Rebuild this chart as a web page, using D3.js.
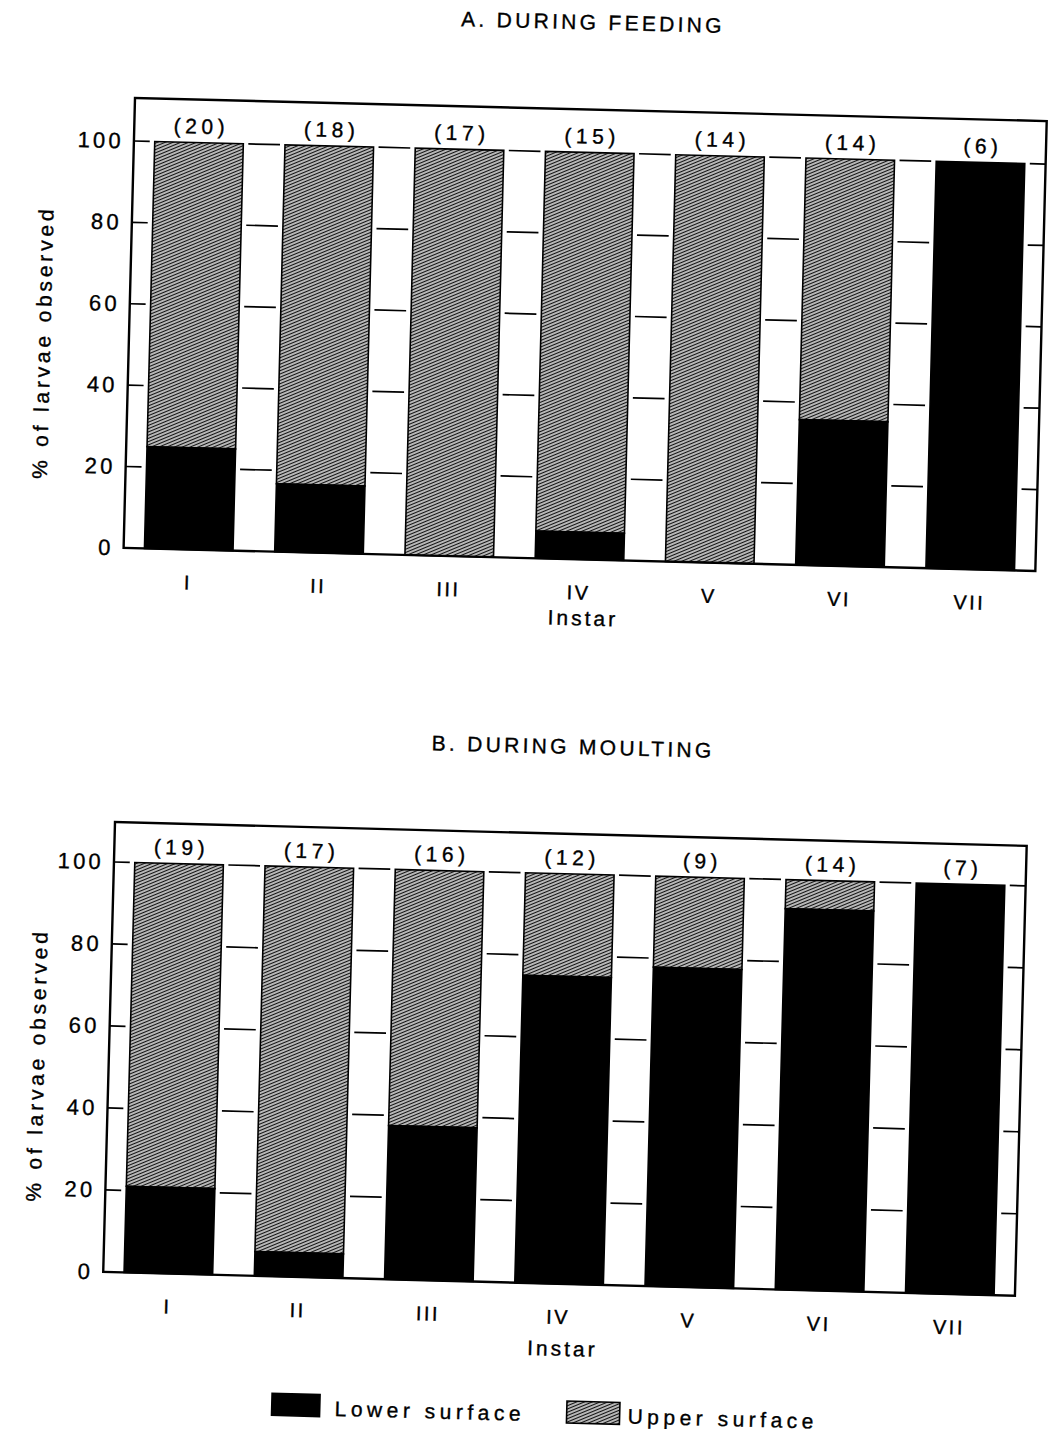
<!DOCTYPE html>
<html>
<head>
<meta charset="utf-8">
<script src="https://cdn.jsdelivr.net/npm/d3@7"></script>
<style>
  body { margin: 0; background: #fff; }
  text { font-family: "Liberation Sans", Arial, sans-serif; fill: #000; stroke: #000; stroke-width: 0.35; }
</style>
</head>
<body>
<svg id="chart" width="1052" height="1445"></svg>
<script>
// data (lower surface %, rest is upper surface)
const instars = ["I", "II", "III", "IV", "V", "VI", "VII"];
const feedingCounts = [20, 18, 17, 15, 14, 14, 6];
const feedingLower = [25, 16.7, 0, 6.7, 0, 35.7, 100];
const moultingCounts = [19, 17, 16, 12, 9, 14, 7];
const moultingLower = [21, 5.9, 37.5, 75, 77.8, 92.9, 100];
const yTicks = [0, 20, 40, 60, 80, 100];
const gridLevels = [20, 40, 60, 80, 100];

const W = 912, H = 450;

const svg = d3.select("#chart");

// grey hatch used for "upper surface"
const defs = svg.append("defs");
const pat = defs.append("pattern")
    .attr("id", "hatch")
    .attr("patternUnits", "userSpaceOnUse")
    .attr("width", 6).attr("height", 3)
    .attr("patternTransform", "rotate(-24)");
pat.append("rect").attr("width", 6).attr("height", 3).attr("fill", "#d4d4d4");
pat.append("line")
    .attr("x1", 0).attr("x2", 6).attr("y1", 1.5).attr("y2", 1.5)
    .attr("stroke", "#111").attr("stroke-width", 1.3);

function drawPanel(p) {
  const g = svg.append("g")
      .attr("transform", `translate(${p.x0},${p.y0}) rotate(${p.angle})`);

  const x = d3.scaleBand().domain(instars).range([0, W])
      .paddingInner(0.32).paddingOuter(0.16);
  const y = d3.scaleLinear().domain([0, 100]).range([H, p.top]);
  const bw = x.bandwidth();

  const rows = instars.map((k, i) => ({ k: k, n: p.counts[i], lower: p.lower[i] }));

  // title
  g.append("text")
      .attr("x", W / 2).attr("y", p.titleY)
      .attr("text-anchor", "middle")
      .attr("font-size", 21).attr("letter-spacing", 3.3)
      .text(p.title);

  // gaps between bars get the short grid dashes
  const edges = [0];
  instars.forEach(k => { edges.push(x(k)); edges.push(x(k) + bw); });
  edges.push(W);
  const gaps = [];
  for (let i = 0; i < edges.length; i += 2) gaps.push([edges[i], edges[i + 1]]);

  gridLevels.forEach(v => {
    g.selectAll(null).data(gaps).enter().append("line")
        .attr("x1", (d, i) => i === 0 ? d[0] : d[0] + 5)
        .attr("x2", (d, i) => i === gaps.length - 1 ? d[1] : d[1] - 5)
        .attr("y1", y(v)).attr("y2", y(v))
        .attr("stroke", "#000").attr("stroke-width", 1.7);
  });

  // upper surface part
  g.selectAll(null).data(rows.filter(d => d.lower < 100)).enter().append("rect")
      .attr("x", d => x(d.k)).attr("width", bw)
      .attr("y", y(100))
      .attr("height", d => y(d.lower) - y(100))
      .attr("fill", "url(#hatch)")
      .attr("stroke", "#000").attr("stroke-width", 1.6);

  // lower surface part
  g.selectAll(null).data(rows.filter(d => d.lower > 0)).enter().append("rect")
      .attr("x", d => x(d.k)).attr("width", bw)
      .attr("y", d => y(d.lower))
      .attr("height", d => H - y(d.lower))
      .attr("fill", "#000")
      .attr("stroke", "#000").attr("stroke-width", 1.6);

  // sample sizes
  g.selectAll(null).data(rows).enter().append("text")
      .attr("x", d => x(d.k) + bw / 2 + 2)
      .attr("y", y(100) - 9)
      .attr("text-anchor", "middle")
      .attr("font-size", 21).attr("letter-spacing", 4.5)
      .text(d => `(${d.n})`);

  // frame
  g.append("rect")
      .attr("width", W).attr("height", H)
      .attr("fill", "none").attr("stroke", "#000").attr("stroke-width", 2.4);

  // y axis labels
  const yAxis = g.append("g")
      .call(d3.axisLeft(y).tickValues(yTicks).tickSize(0).tickPadding(10));
  yAxis.select(".domain").remove();
  yAxis.selectAll("text")
      .attr("font-size", 22).attr("letter-spacing", 3.2)
      .attr("font-family", "'Liberation Sans', Arial, sans-serif");

  // x axis labels
  const xAxis = g.append("g").attr("transform", `translate(0,${H})`)
      .call(d3.axisBottom(x).tickSize(0).tickPadding(p.xPad));
  xAxis.select(".domain").remove();
  xAxis.selectAll("text")
      .attr("font-size", 20).attr("letter-spacing", 2.5)
      .attr("font-family", "'Liberation Sans', Arial, sans-serif");

  g.append("text")
      .attr("x", W / 2 + 5).attr("y", H + p.instarY)
      .attr("text-anchor", "middle")
      .attr("font-size", 21).attr("letter-spacing", 3)
      .attr("stroke-width", 0.6)
      .text("Instar");

  g.append("text")
      .attr("transform", `translate(${p.yTitleX},${y(50)}) rotate(-90)`)
      .attr("text-anchor", "middle")
      .attr("dominant-baseline", "central")
      .attr("font-size", 21).attr("letter-spacing", 3.8)
      .text("% of larvae observed");

  return g;
}

drawPanel({
  x0: 135, y0: 98, angle: 1.45, top: 43,
  counts: feedingCounts, lower: feedingLower,
  title: "A. DURING FEEDING", titleY: -80,
  xPad: 26, instarY: 66, yTitleX: -86
});

const gB = drawPanel({
  x0: 115, y0: 822, angle: 1.5, top: 40,
  counts: moultingCounts, lower: moultingLower,
  title: "B. DURING MOULTING", titleY: -80,
  xPad: 26, instarY: 72, yTitleX: -72
});

// legend, inside panel B so it tilts the same way
const legendItems = ["Lower surface", "Upper surface"];
const legendFill = ["#000", "url(#hatch)"];
const legendX = [172, 467];
const lg = gB.selectAll(null).data(legendItems).enter().append("g")
    .attr("transform", (d, i) => `translate(${legendX[i]},567)`);
lg.append("rect")
    .attr("width", (d, i) => i === 0 ? 48 : 53).attr("height", 22)
    .attr("fill", (d, i) => legendFill[i])
    .attr("stroke", "#000").attr("stroke-width", 1.6);
lg.append("text")
    .attr("x", (d, i) => i === 0 ? 63 : 61).attr("y", 21)
    .attr("font-size", 21).attr("letter-spacing", 4.5)
    .text(d => d);
</script>
</body>
</html>
